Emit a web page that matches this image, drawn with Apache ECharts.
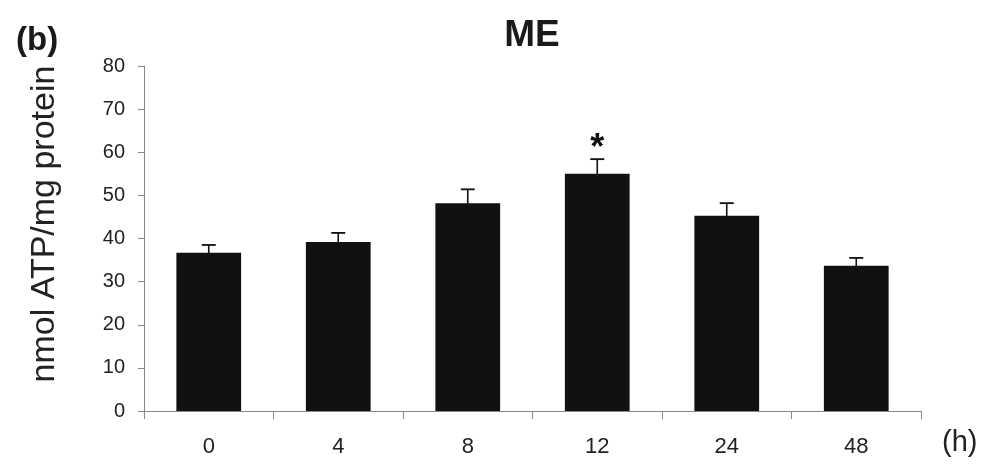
<!DOCTYPE html>
<html>
<head>
<meta charset="utf-8">
<script src="https://cdn.jsdelivr.net/npm/echarts@6/dist/echarts.min.js"></script>
<style>
html,body{margin:0;padding:0;background:#fff;}
#chart{width:982px;height:467px;}
</style>
</head>
<body>
<div id="chart"></div>
<script>
const categories = ['0', '4', '8', '12', '24', '48'];
const means = [36.7, 39.2, 48.2, 55.0, 45.3, 33.7];
const errorTops = [38.5, 41.3, 51.4, 58.4, 48.2, 35.5];
const significance = ['', '', '', '*', '', ''];
const yTicks = { min: 0, max: 80, interval: 10 };

const chart = echarts.init(document.getElementById('chart'));
const font = '"Liberation Sans", Arial, sans-serif';

chart.setOption({
  animation: false,
  backgroundColor: '#ffffff',
  title: [
    { text: '(b)', left: 11, top: 19, textStyle: { fontFamily: font, fontWeight: 'bold', fontSize: 33, color: '#1a1a1a' } },
    { text: 'ME', left: 527, top: 12, textAlign: 'center', textStyle: { fontFamily: font, fontWeight: 'bold', fontSize: 37, color: '#1a1a1a' } }
  ],
  grid: { left: 144, right: 61, top: 66, bottom: 56, containLabel: false },
  xAxis: {
    type: 'category',
    data: categories,
    boundaryGap: true,
    name: '(h)',
    nameLocation: 'end',
    nameGap: 21,
    nameTextStyle: { fontFamily: font, fontSize: 29, color: '#222', verticalAlign: 'top', padding: [17, 0, 0, 0] },
    axisLine: { lineStyle: { color: '#888', width: 1 } },
    axisTick: { show: true, alignWithLabel: false, interval: 0, length: 8, lineStyle: { color: '#888' } },
    axisLabel: { fontFamily: font, fontSize: 22, color: '#222', margin: 25 },
    splitLine: { show: false }
  },
  yAxis: {
    type: 'value',
    min: yTicks.min,
    max: yTicks.max,
    interval: yTicks.interval,
    name: 'nmol ATP/mg protein',
    nameLocation: 'middle',
    nameRotate: 90,
    nameGap: 82,
    nameTextStyle: { fontFamily: font, fontSize: 34, color: '#222', padding: [0, 0, 0, 29] },
    axisLine: { show: true, lineStyle: { color: '#888', width: 1 } },
    axisTick: { show: true, length: 6, lineStyle: { color: '#888' } },
    axisLabel: { fontFamily: font, fontSize: 20, color: '#222', margin: 19 },
    splitLine: { show: false }
  },
  series: [
    {
      type: 'bar',
      data: means,
      barWidth: '50%',
      itemStyle: { color: '#111111' },
      z: 2
    },
    {
      type: 'custom',
      z: 3,
      data: categories.map((c, i) => [i, means[i], errorTops[i], significance[i]]),
      renderItem: function (params, api) {
        const i = api.value(0);
        const base = api.coord([i, api.value(1)]);
        const top = api.coord([i, api.value(2)]);
        const capHalf = 7;
        const children = [
          { type: 'line', shape: { x1: top[0], y1: base[1] + 6, x2: top[0], y2: top[1] }, style: { stroke: '#111', lineWidth: 1.6 } },
          { type: 'line', shape: { x1: top[0] - capHalf, y1: top[1], x2: top[0] + capHalf, y2: top[1] }, style: { stroke: '#111', lineWidth: 1.8 } }
        ];
        const sig = significance[i];
        if (sig) {
          children.push({
            type: 'text',
            style: { text: sig, x: top[0], y: top[1] - 10, align: 'center', verticalAlign: 'middle', font: 'bold 36px ' + font, fill: '#111' }
          });
        }
        return { type: 'group', children: children };
      }
    }
  ]
});
</script>
</body>
</html>
